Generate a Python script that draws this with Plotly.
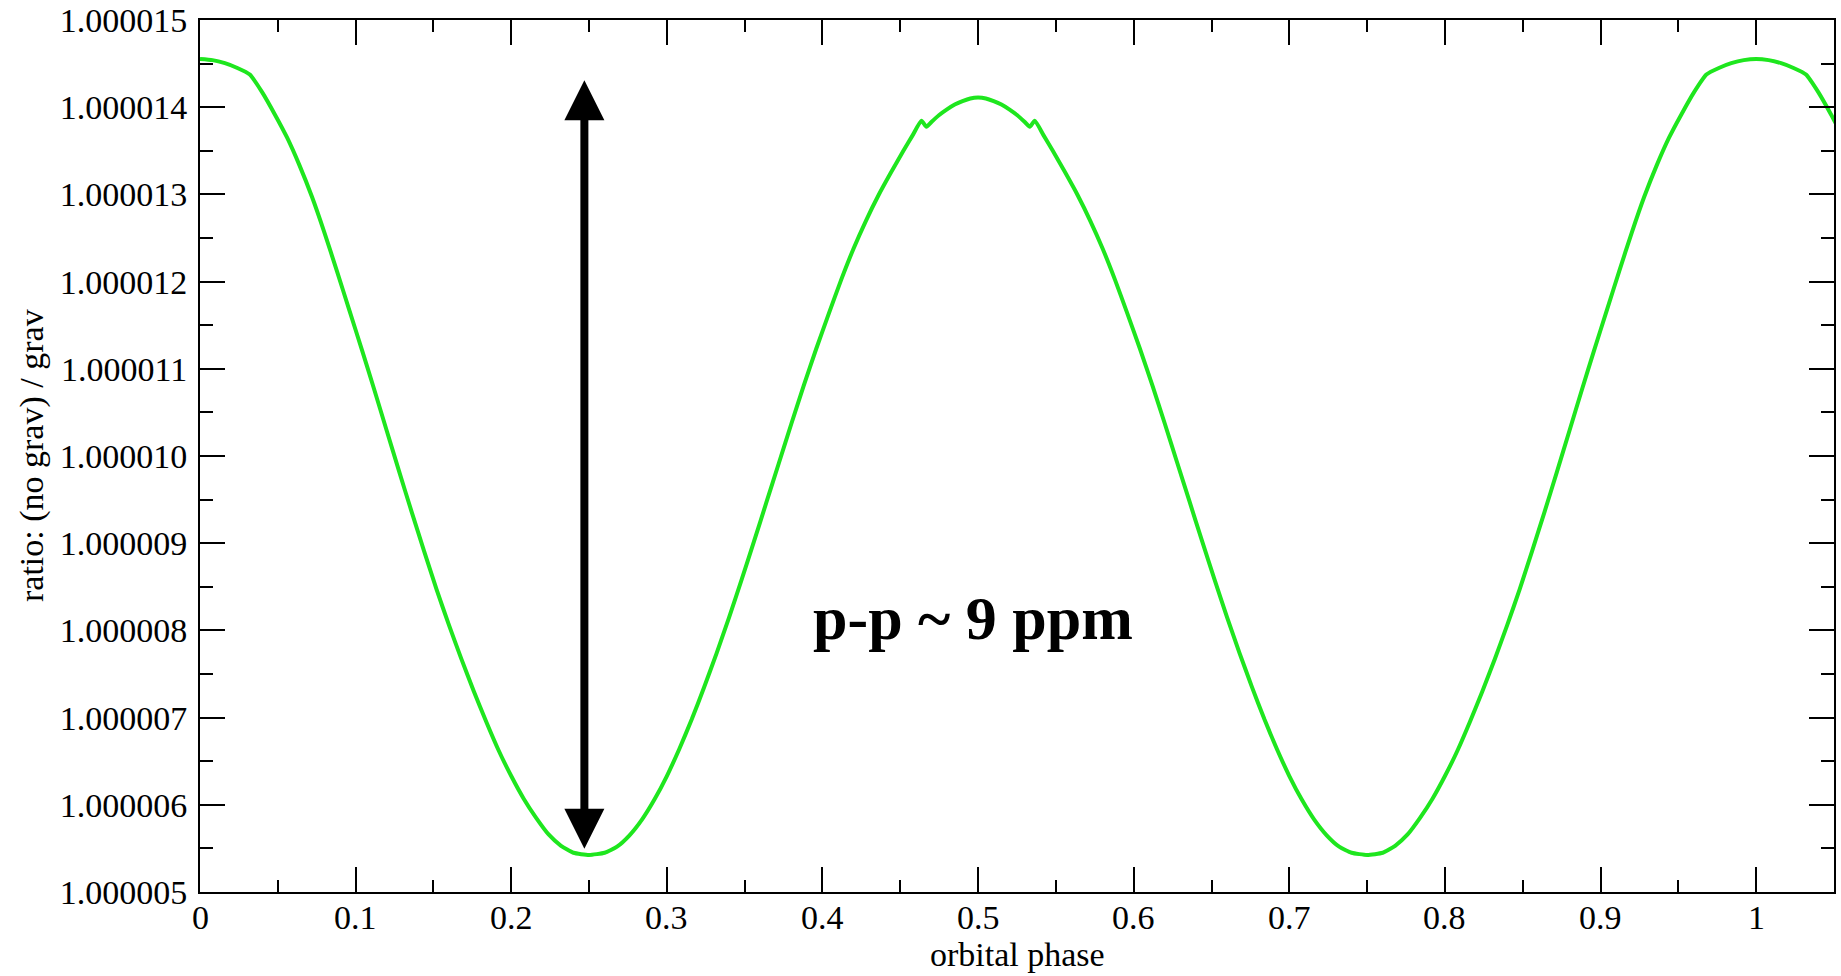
import plotly.graph_objects as go

# orbital phase samples
phase = [
    0.000, 0.008, 0.016, 0.024, 0.032, 0.040, 0.048, 0.056, 0.064, 0.072,
    0.080, 0.088, 0.096, 0.104, 0.112, 0.120, 0.128, 0.136, 0.144, 0.152,
    0.160, 0.168, 0.176, 0.184, 0.192, 0.200, 0.208, 0.216, 0.224, 0.232,
    0.240, 0.250, 0.260, 0.268, 0.276, 0.284, 0.292, 0.300, 0.308, 0.316,
    0.324, 0.332, 0.340, 0.348, 0.356, 0.364, 0.372, 0.380, 0.388, 0.396,
    0.404, 0.412, 0.420, 0.428, 0.436, 0.444, 0.452, 0.458, 0.4636, 0.4668,
    0.470, 0.475, 0.480, 0.485, 0.490, 0.495, 0.500, 0.505, 0.510, 0.515,
    0.520, 0.525, 0.530, 0.5332, 0.5364, 0.542, 0.548, 0.556, 0.564, 0.572,
    0.580, 0.588, 0.596, 0.604, 0.612, 0.620, 0.628, 0.636, 0.644, 0.652,
    0.660, 0.668, 0.676, 0.684, 0.692, 0.700, 0.708, 0.716, 0.724, 0.732,
    0.740, 0.750, 0.760, 0.768, 0.776, 0.784, 0.792, 0.800, 0.808, 0.816,
    0.824, 0.832, 0.840, 0.848, 0.856, 0.864, 0.872, 0.880, 0.888, 0.896,
    0.904, 0.912, 0.920, 0.928, 0.936, 0.944, 0.952, 0.960, 0.968, 0.976,
    0.984, 0.992, 1.000, 1.008, 1.016, 1.024, 1.032, 1.040, 1.048, 1.056,
]

# ratio (no grav)/grav minus 1, in parts per million
ratio_ppm = [
    14.553, 14.540, 14.505, 14.450, 14.375, 14.170, 13.920, 13.650, 13.330, 12.970,
    12.560, 12.120, 11.670, 11.220, 10.760, 10.290, 9.820, 9.360, 8.910, 8.470,
    8.060, 7.670, 7.300, 6.950, 6.620, 6.330, 6.070, 5.850, 5.660, 5.530,
    5.450, 5.425, 5.450, 5.520, 5.650, 5.830, 6.060, 6.330, 6.640, 6.980,
    7.350, 7.740, 8.150, 8.580, 9.020, 9.470, 9.920, 10.370, 10.810, 11.230,
    11.630, 12.020, 12.380, 12.700, 12.990, 13.250, 13.500, 13.680, 13.845, 13.775,
    13.830, 13.910, 13.975, 14.030, 14.070, 14.100, 14.110, 14.100, 14.070, 14.030,
    13.975, 13.910, 13.830, 13.775, 13.845, 13.680, 13.500, 13.250, 12.990, 12.700,
    12.380, 12.020, 11.630, 11.230, 10.810, 10.370, 9.920, 9.470, 9.020, 8.580,
    8.150, 7.740, 7.350, 6.980, 6.640, 6.330, 6.060, 5.830, 5.650, 5.520,
    5.450, 5.425, 5.450, 5.530, 5.660, 5.850, 6.070, 6.330, 6.620, 6.950,
    7.300, 7.670, 8.060, 8.470, 8.910, 9.360, 9.820, 10.290, 10.760, 11.220,
    11.670, 12.120, 12.560, 12.970, 13.330, 13.650, 13.920, 14.170, 14.375, 14.450,
    14.505, 14.540, 14.553, 14.540, 14.505, 14.450, 14.375, 14.170, 13.920, 13.650,
]

# x tick labels
x_tick_vals = [0, 0.1, 0.2, 0.3, 0.4, 0.5, 0.6, 0.7, 0.8, 0.9, 1.0]
x_tick_text = ["0", "0.1", "0.2", "0.3", "0.4", "0.5", "0.6", "0.7", "0.8", "0.9", "1"]

# annotation values
arrow_phase = 0.247
arrow_top_ppm = 14.31
arrow_bottom_ppm = 5.48
label_text = "p-p ~ 9 ppm"
label_phase = 0.497
label_ppm = 8.14
x_title = "orbital phase"
y_title = "ratio: (no grav) / grav"

ratio = [1.0 + v * 1e-6 for v in ratio_ppm]

FONT = "Liberation Serif"

fig = go.Figure()
fig.add_trace(go.Scatter(
    x=phase, y=ratio, mode="lines",
    line=dict(color="rgb(30,230,30)", width=4, shape="spline", smoothing=0.5),
    showlegend=False, hoverinfo="skip",
))

# double-headed arrow
fig.add_annotation(
    x=arrow_phase, y=1.0 + arrow_top_ppm * 1e-6,
    ax=arrow_phase, ay=1.0 + arrow_bottom_ppm * 1e-6,
    xref="x", yref="y", axref="x", ayref="y",
    text="", showarrow=True,
    arrowhead=2, startarrowhead=2, arrowside="end+start",
    arrowwidth=8, arrowsize=1, startarrowsize=1,
    arrowcolor="black", standoff=0, startstandoff=0,
)

fig.add_annotation(
    x=label_phase, y=1.0 + label_ppm * 1e-6, xref="x", yref="y",
    text="<b>" + label_text + "</b>", showarrow=False,
    font=dict(family=FONT, size=62, color="black"),
    xanchor="center", yanchor="middle",
)

# x tick labels placed on the x scale, just below the axis
for tv, tt in zip(x_tick_vals, x_tick_text):
    fig.add_annotation(
        x=tv, y=-0.0298, xref="x", yref="paper",
        text=tt, showarrow=False,
        font=dict(family=FONT, size=34, color="black"),
        xanchor="center", yanchor="middle", borderpad=0,
    )

# axis titles
fig.add_annotation(
    x=0.5, y=-0.0715, xref="paper", yref="paper",
    text=x_title, showarrow=False,
    font=dict(family=FONT, size=34, color="black"),
    xanchor="center", yanchor="middle", borderpad=0,
)
fig.add_annotation(
    x=-0.1028, y=0.5, xref="paper", yref="paper",
    text=y_title, showarrow=False, textangle=-90,
    font=dict(family=FONT, size=34, color="black"),
    xanchor="center", yanchor="middle",
)

axis_common = dict(
    showline=True, linecolor="black", linewidth=2, mirror="ticks",
    ticks="inside", tickcolor="black", tickwidth=2, ticklen=25,
    showgrid=False, zeroline=False,
    tickfont=dict(family=FONT, size=34, color="black"),
)

fig.update_xaxes(
    range=[0, 1.05], tick0=0, dtick=0.1, showticklabels=False,
    minor=dict(dtick=0.05, ticks="inside", ticklen=12, tickwidth=2, tickcolor="black", showgrid=False),
    **axis_common,
)
fig.update_yaxes(
    range=[1.000005, 1.000015], tick0=1.000005, dtick=1e-6, tickformat=".6f",
    minor=dict(dtick=0.5e-6, ticks="inside", ticklen=13, tickwidth=2, tickcolor="black", showgrid=False),
    ticklabelstandoff=4,
    **axis_common,
)

fig.update_layout(
    width=1841, height=976,
    margin=dict(l=200, r=7, t=20, b=84, autoexpand=False),
    paper_bgcolor="white", plot_bgcolor="white",
)

fig.write_html("out.html")
